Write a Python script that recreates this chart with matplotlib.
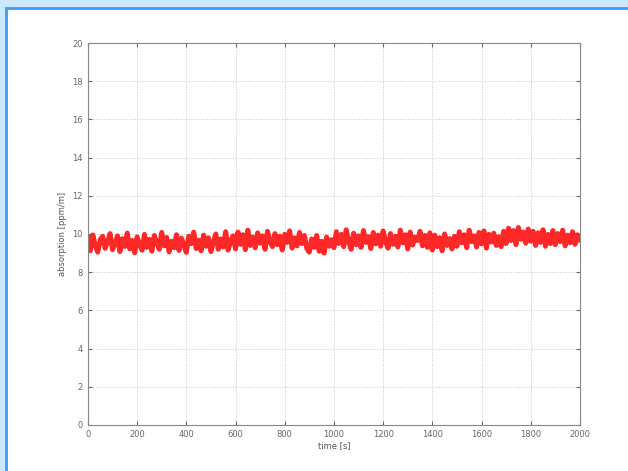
import matplotlib.pyplot as plt
from matplotlib.patches import Rectangle
import numpy as np

# sampled signal, one value every 10 s
values = [
    9.80, 9.12, 9.95, 9.40, 9.05, 9.70, 9.88, 9.25, 9.60, 10.02,
    9.18, 9.48, 9.90, 9.08, 9.75, 9.35, 10.05, 9.22, 9.66, 9.02,
    9.85, 9.45, 9.15, 9.98, 9.30, 9.72, 9.10, 9.92, 9.55, 9.20,
    10.08, 9.38, 9.82, 9.06, 9.62, 9.28, 9.96, 9.14, 9.78, 9.42,
    9.04, 9.88, 9.50, 10.10, 9.24, 9.68, 9.12, 9.94, 9.36, 9.80,
    9.08, 9.58, 10.00, 9.20, 9.74, 9.32, 10.12, 9.16, 9.64, 9.90,
    9.22, 10.10, 9.46, 9.96, 9.18, 10.20, 9.40, 9.84, 9.28, 10.06,
    9.52, 9.90, 9.20, 10.14, 9.60, 9.34, 10.02, 9.44, 9.88, 9.16,
    9.98, 9.56, 10.16, 9.26, 9.80, 9.38, 10.08, 9.50, 9.92, 9.24,
    9.05, 9.74, 9.30, 9.92, 9.10, 9.62, 9.00, 9.84, 9.36, 9.70,
    9.28, 10.12, 9.50, 9.98, 9.34, 10.22, 9.62, 9.20, 10.04, 9.44,
    9.90, 9.30, 10.18, 9.56, 9.86, 9.24, 10.08, 9.48, 9.94, 9.36,
    10.16, 9.60, 9.26, 10.02, 9.46, 9.88, 9.32, 10.20, 9.54, 9.96,
    9.22, 10.10, 9.42, 9.84, 9.66, 10.14, 9.38, 9.92, 9.30, 10.06,
    9.16, 9.94, 9.34, 9.80, 9.12, 10.00, 9.40, 9.76, 9.22, 9.88,
    9.36, 10.12, 9.54, 9.96, 9.28, 10.20, 9.60, 9.90, 9.32, 10.08,
    9.48, 10.16, 9.26, 9.98, 9.58, 10.04, 9.40, 9.86, 9.34, 10.14,
    9.50, 10.30, 9.66, 10.18, 9.44, 10.34, 9.72, 10.10, 9.52, 10.26, 9.62,
    10.14, 9.40, 10.06, 9.56, 10.22, 9.36, 9.98, 9.50, 10.18, 9.44,
    10.02, 9.60, 10.20, 9.38, 9.94, 9.54, 10.12, 9.46, 9.96, 9.70,
]
step = 10
time = np.arange(len(values)) * step

xticks = list(range(0, 2001, 200))
yticks = list(range(0, 21, 2))

fig = plt.figure(figsize=(6.28, 4.71), dpi=100)
fig.patch.set_facecolor('#cce8ff')
frame = Rectangle((6 / 628, -0.05), 1.1, 1.05 - 8 / 471,
                  transform=fig.transFigure, facecolor='white',
                  edgecolor='#3d9cf5', lw=2, zorder=-10)
fig.add_artist(frame)

ax = fig.add_axes([0.140, 0.0977, 0.7834, 0.811])
ax.set_zorder(5)
ax.plot(time, values, color='#ff1010', lw=3.6, alpha=0.9,
        solid_joinstyle='round')

ax.set_xlim(0, 2000)
ax.set_ylim(0, 20)
ax.set_xticks(xticks)
ax.set_yticks(yticks)
ax.grid(True, linestyle=':', color='#c8c8c8', lw=0.7)
ax.tick_params(direction='in', labelsize=6, colors='#666666', length=3,
               top=True, right=True)
for s in ax.spines.values():
    s.set_color('#888888')
    s.set_linewidth(0.8)

ax.set_xlabel('time [s]', fontsize=6, color='#555555', labelpad=2)
ax.set_ylabel('absorption [ppm/m]', fontsize=6, color='#555555', labelpad=4)

fig.savefig('out.png', dpi=100, facecolor=fig.get_facecolor())
